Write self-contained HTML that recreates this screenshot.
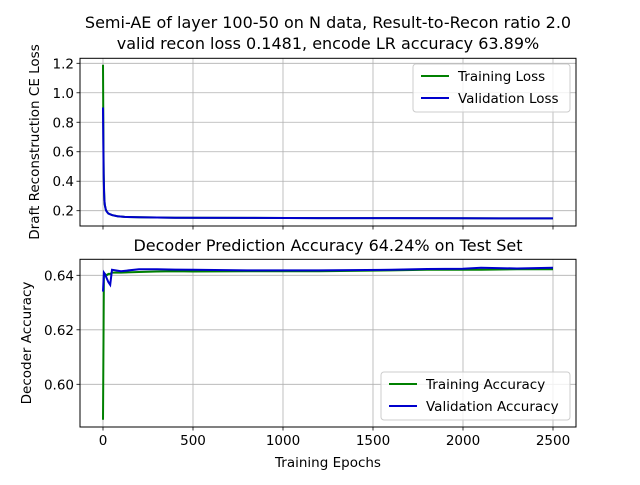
<!DOCTYPE html>
<html><head><meta charset="utf-8"><style>
body{margin:0;background:#fff;}
svg text{font-family:"DejaVu Sans","Liberation Sans",sans-serif;fill:#000;}
</style></head><body>
<svg id="c" width="640" height="480" viewBox="0 0 640 480">
<rect width="640" height="480" fill="#fff"/>
</svg>
<script>
const lossEpochs=[0,2,4,6,8,10,15,20,30,50,80,120,200,400,800,1200,1600,2000,2200,2500];
const trainLoss=[1.19,0.7,0.45,0.33,0.27,0.24,0.21,0.195,0.18,0.17,0.163,0.158,0.155,0.152,0.151,0.15,0.15,0.149,0.148,0.148];
const validLoss=[0.9,0.6,0.42,0.32,0.27,0.24,0.21,0.195,0.18,0.17,0.163,0.158,0.155,0.152,0.151,0.15,0.15,0.149,0.148,0.148];
const accEpochs=[0,5,10,20,30,40,50,100,200,300,400,500,800,1200,1600,1800,2000,2100,2300,2500];
const trainAcc=[0.587,0.64,0.6405,0.640,0.6405,0.6405,0.641,0.641,0.6412,0.6414,0.6415,0.6414,0.6415,0.6415,0.6418,0.642,0.642,0.642,0.6422,0.6422];
const validAcc=[0.634,0.641,0.6405,0.639,0.6375,0.6365,0.642,0.6415,0.6422,0.6422,0.6421,0.642,0.6418,0.6418,0.642,0.6423,0.6424,0.6428,0.6425,0.6428];
const xTicks=[0,500,1000,1500,2000,2500];
const lossTicks=[0.2,0.4,0.6,0.8,1.0,1.2];
const accTicks=[0.60,0.62,0.64];
const NS="http://www.w3.org/2000/svg",svg=document.getElementById('c');
function el(t,a,txt){const e=document.createElementNS(NS,t);for(const k in a)e.setAttribute(k,a[k]);if(txt!=null)e.textContent=txt;svg.appendChild(e);return e;}
const L=80,R=576;
const xs=v=>103+(v-0)*90/500;
const T1=58.3,B1=226,ys1=v=>210.7-(v-0.2)*147.4;
const T2=259.3,B2=427,ys2=v=>384.3-(v-0.60)*2725;
function grid(T,B,ticks,ys,fmt,showX){
  xTicks.forEach(t=>{const x=xs(t);let g=el('line',{x1:x,x2:x,y1:T,y2:B,stroke:'#b0b0b0','stroke-width':0.8});
    el('line',{x1:x,x2:x,y1:B,y2:B+3.5,stroke:'#000','stroke-width':0.8});
    if(showX){const tx=el('text',{x:x,y:B+18,'font-size':13.5,'text-anchor':'middle'},t);}});
  ticks.forEach(t=>{const y=ys(t);el('line',{x1:L,x2:R,y1:y,y2:y,stroke:'#b0b0b0','stroke-width':0.8});
    el('line',{x1:L-3.5,x2:L,y1:y,y2:y,stroke:'#000','stroke-width':0.8});
    const tx=el('text',{x:L-6,y:y+5,'font-size':13.5,'text-anchor':'end'},fmt(t));});
}
function line(xv,yv,ys,color,name){const p=xv.map((x,i)=>xs(x).toFixed(1)+','+ys(yv[i]).toFixed(1)).join(' ');
  const e=el('polyline',{points:p,fill:'none',stroke:color,'stroke-width':2});}
function frame(T,B,name){const e=el('rect',{x:L,y:T,width:R-L,height:B-T,fill:'none',stroke:'#000','stroke-width':1});}
function legend(x,y,w,labels){const b=el('rect',{x:x,y:y,width:w,height:48,rx:3,fill:'#fff','fill-opacity':0.8,stroke:'#ccc'});
  labels.forEach((l,i)=>{const yy=y+12+i*22;el('line',{x1:x+8,x2:x+36,y1:yy,y2:yy,stroke:l[1],'stroke-width':2});
    const t=el('text',{x:x+45,y:yy+5,'font-size':13.5},l[0]);});}
grid(T1,B1,lossTicks,ys1,t=>t.toFixed(1),false);
line(lossEpochs,trainLoss,ys1,'#008000','training-loss-line');
line(lossEpochs,validLoss,ys1,'#0000cd','validation-loss-line');
frame(T1,B1,'top-axes');
legend(413,64,157,[['Training Loss','#008000'],['Validation Loss','#0000cd']]);
grid(T2,B2,accTicks,ys2,t=>t.toFixed(2),true);
line(accEpochs,trainAcc,ys2,'#008000','training-accuracy-line');
line(accEpochs,validAcc,ys2,'#0000cd','validation-accuracy-line');
frame(T2,B2,'bottom-axes');
legend(381,372,189,[['Training Accuracy','#008000'],['Validation Accuracy','#0000cd']]);
function txt(a,s,name){const t=el('text',a,s);}
txt({x:328,y:28,'font-size':16,'text-anchor':'middle'},'Semi-AE of layer 100-50 on N data, Result-to-Recon ratio 2.0','title-line-1');
txt({x:328,y:49,'font-size':16,'text-anchor':'middle'},'valid recon loss 0.1481, encode LR accuracy 63.89%','title-line-2');
txt({x:328,y:251,'font-size':16,'text-anchor':'middle'},'Decoder Prediction Accuracy 64.24% on Test Set','bottom-title');
txt({x:328,y:467,'font-size':13.5,'text-anchor':'middle'},'Training Epochs','x-axis-title');
txt({x:0,y:0,'font-size':13.5,'text-anchor':'middle',transform:'translate(39,142) rotate(-90)'},'Draft Reconstruction CE Loss','top-y-axis-title');
txt({x:0,y:0,'font-size':13.5,'text-anchor':'middle',transform:'translate(31,343) rotate(-90)'},'Decoder Accuracy','bottom-y-axis-title');
</script>
</body></html>
